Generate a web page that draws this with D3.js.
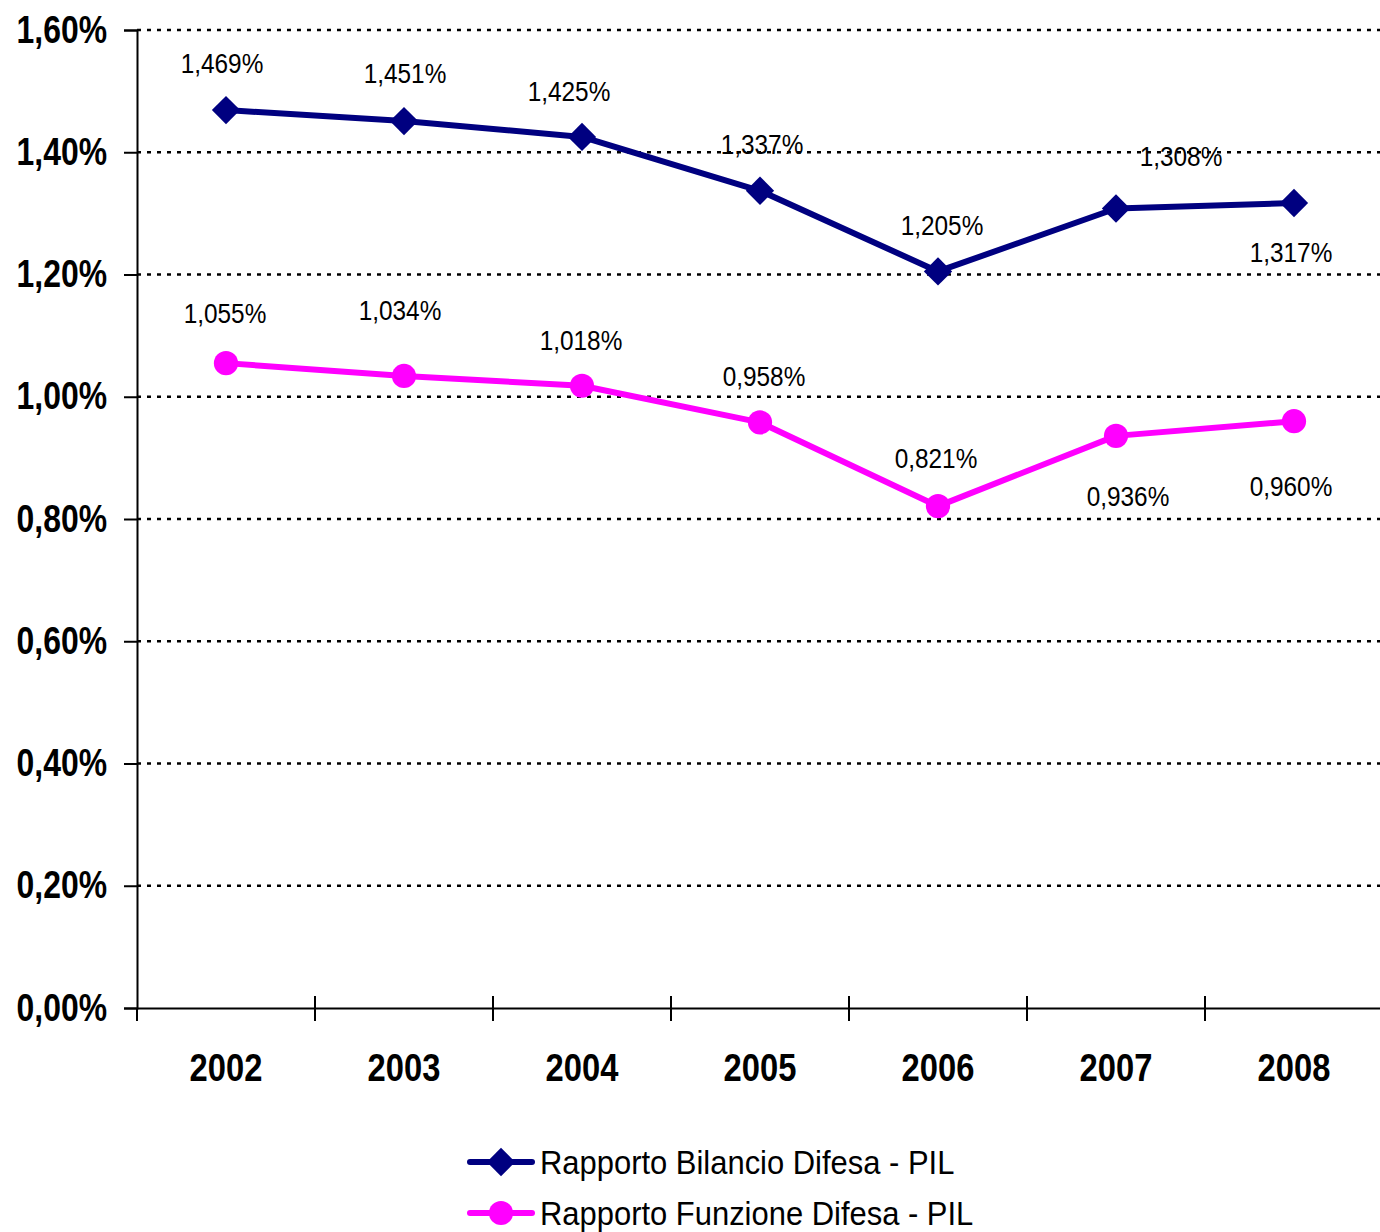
<!DOCTYPE html>
<html>
<head>
<meta charset="utf-8">
<script src="https://cdn.jsdelivr.net/npm/d3@7"></script>
<style>
  body { margin: 0; background: #fff; }
  svg { display: block; font-family: "Liberation Sans", Arial, sans-serif; }
</style>
</head>
<body>
<div id="chart"></div>
<script>
const years = ['2002', '2003', '2004', '2005', '2006', '2007', '2008'];
const bilancio = [1.469, 1.451, 1.425, 1.337, 1.205, 1.308, 1.317];
const funzione = [1.055, 1.034, 1.018, 0.958, 0.821, 0.936, 0.960];
const yTicks = [0, 0.2, 0.4, 0.6, 0.8, 1.0, 1.2, 1.4, 1.6];
const seriesNames = ['Rapporto Bilancio Difesa - PIL', 'Rapporto Funzione Difesa - PIL'];

// label offsets (dx, dy) from each point, as placed in the original
const bilancioLabelPos = [[-4,-47],[1,-48],[-13,-46],[2,-47],[4,-46],[65,-52],[-3,49]];
const funzioneLabelPos = [[-1,-50],[-4,-66],[-1,-46],[4,-46],[-2,-48],[12,60],[-3,65]];

const W = 1380, H = 1232;
const margin = {top: 30, right: -3, bottom: 224, left: 137};
const width = W - margin.left - margin.right,
      height = H - margin.top - margin.bottom;

// narrow font look: squeeze text horizontally
function narrow(sel, k) {
  sel.each(function () {
    const t = d3.select(this);
    const x = +t.attr('x') || 0;
    t.attr('x', x / k).attr('transform', 'scale(' + k + ',1)');
  });
}

const svg = d3.select('#chart').append('svg')
    .attr('width', W)
    .attr('height', H)
  .append('g')
    .attr('transform', 'translate(' + margin.left + ',' + margin.top + ')');

const xScale = d3.scaleBand().domain(years).range([0, width]);
const yScale = d3.scaleLinear().domain([0, 1.6]).range([height, 0]);

const fmt = v => d3.format('.2f')(v).replace('.', ',') + '%';
const fmt3 = v => d3.format('.3f')(v).replace('.', ',') + '%';

// gridlines
svg.append('g')
  .selectAll('line')
  .data(yTicks.filter(d => d > 0))
  .enter()
  .append('line')
    .attr('x1', 0)
    .attr('x2', width)
    .attr('y1', d => yScale(d))
    .attr('y2', d => yScale(d))
    .attr('stroke', '#000')
    .attr('stroke-width', 2.5)
    .attr('stroke-dasharray', '4,6');

// y axis
const yAxis = svg.append('g')
    .call(d3.axisLeft(yScale).tickValues(yTicks).tickFormat(fmt).tickSize(13).tickPadding(17));
yAxis.select('.domain').attr('stroke-width', 2);
yAxis.selectAll('.tick line').attr('stroke-width', 2);
yAxis.selectAll('text')
    .attr('font-size', 38)
    .attr('font-weight', 'bold')
    .attr('fill', '#000')
    .attr('font-family', null)
    .call(narrow, 0.84);

// x axis
const xAxis = svg.append('g')
    .attr('transform', 'translate(0,' + height + ')')
    .call(d3.axisBottom(xScale).tickSize(0).tickPadding(45));
xAxis.select('.domain').attr('stroke-width', 2);
xAxis.selectAll('text')
    .attr('font-size', 39)
    .attr('font-weight', 'bold')
    .attr('fill', '#000')
    .attr('font-family', null)
    .call(narrow, 0.84);
xAxis.selectAll('line.bound')
  .data(d3.range(years.length + 1))
  .enter()
  .append('line')
    .attr('class', 'bound')
    .attr('x1', i => i * xScale.step())
    .attr('x2', i => i * xScale.step())
    .attr('y1', i => i === 0 ? 0 : -12)
    .attr('y2', 13)
    .attr('stroke', '#000')
    .attr('stroke-width', 2);

const cx = d => xScale(d) + xScale.bandwidth() / 2;
const line = d3.line()
    .x(d => cx(d.year))
    .y(d => yScale(d.value));

const series = [
  {name: seriesNames[0], values: bilancio, color: '#000080', marker: d3.symbolSquare, size: 400, rot: 45, labels: bilancioLabelPos},
  {name: seriesNames[1], values: funzione, color: '#FF00FF', marker: d3.symbolCircle, size: 460, rot: 0, labels: funzioneLabelPos}
];

series.forEach(s => {
  const pts = years.map((y, i) => ({year: y, value: s.values[i], off: s.labels[i]}));
  svg.append('path')
    .datum(pts)
    .attr('fill', 'none')
    .attr('stroke', s.color)
    .attr('stroke-width', 6)
    .attr('stroke-linejoin', 'round')
    .attr('d', line);
  svg.append('g')
    .selectAll('path')
    .data(pts)
    .enter()
    .append('path')
      .attr('d', d3.symbol().type(s.marker).size(s.size))
      .attr('transform', d => 'translate(' + cx(d.year) + ',' + yScale(d.value) + ') rotate(' + s.rot + ')')
      .attr('fill', s.color);
  svg.append('g')
    .selectAll('text')
    .data(pts)
    .enter()
    .append('text')
      .attr('x', d => cx(d.year) + d.off[0])
      .attr('y', d => yScale(d.value) + d.off[1])
      .attr('dy', '0.35em')
      .attr('text-anchor', 'middle')
      .attr('font-size', 28)
      .attr('fill', '#000')
      .text(d => fmt3(d.value))
      .call(narrow, 0.87);
});

// legend
const legend = svg.append('g')
    .attr('transform', 'translate(' + (470 - margin.left) + ',' + (1162 - margin.top) + ')');
series.forEach((s, i) => {
  const g = legend.append('g').attr('transform', 'translate(0,' + i * 51 + ')');
  g.append('line')
    .attr('x1', 0).attr('x2', 62)
    .attr('stroke', s.color)
    .attr('stroke-width', 6)
    .attr('stroke-linecap', 'round');
  g.append('path')
    .attr('d', d3.symbol().type(s.marker).size(s.size))
    .attr('transform', 'translate(31,0) rotate(' + s.rot + ')')
    .attr('fill', s.color);
  g.append('text')
    .attr('x', 70)
    .attr('dy', '0.35em')
    .attr('font-size', 34)
    .attr('fill', '#000')
    .text(s.name)
    .call(narrow, 0.91);
});
</script>
</body>
</html>
